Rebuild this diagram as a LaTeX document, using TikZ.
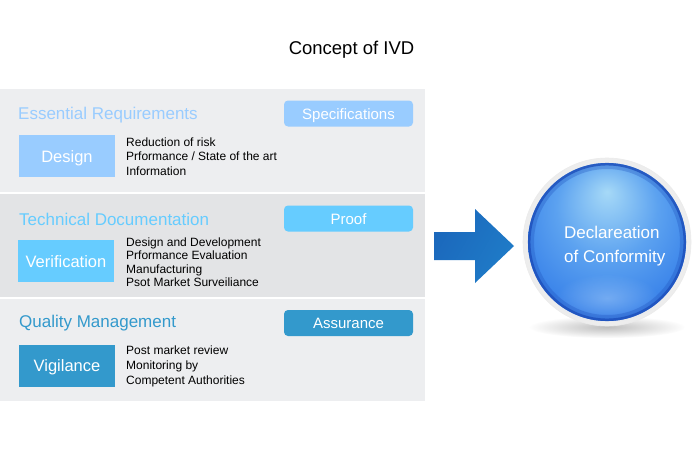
\documentclass[tikz,border=0pt]{standalone}
\usepackage{fontspec}
\setmainfont{Liberation Sans}
\usetikzlibrary{fadings}
\definecolor{paneA}{HTML}{EDEEF0}
\definecolor{paneB}{HTML}{E3E4E6}
\definecolor{specblue}{HTML}{99CCFF}
\definecolor{proofblue}{HTML}{66CCFF}
\definecolor{assurblue}{HTML}{3399CC}
\definecolor{arrowA}{HTML}{1B68BC}
\definecolor{arrowB}{HTML}{3AB0E6}
\definecolor{arrowC}{HTML}{1F7CC8}
\definecolor{orbA}{HTML}{A6D9F7}
\definecolor{orbB}{HTML}{5CA2F0}
\definecolor{orbC}{HTML}{3D86EA}
\definecolor{orbD}{HTML}{2E6ADA}
\definecolor{orbE}{HTML}{1D4FBB}
\definecolor{orbbottom}{HTML}{93C0F7}
\definecolor{ringgray}{HTML}{EDEDED}
\newcommand{\fs}[1]{\fontsize{#1}{#1}\selectfont}
\pgfdeclareradialshading{orb}{\pgfpoint{0bp}{16bp}}{color(0bp)=(orbA); color(16bp)=(orbB); color(28bp)=(orbC); color(36bp)=(orbD); color(42bp)=(orbE); color(50bp)=(orbE)}
\tikzfading[name=glow, inner color=transparent!0, outer color=transparent!100]
\tikzset{
	head/.style={anchor=base west,inner sep=0pt,font=\fs{17},text=#1},
	tag/.style={fill=#1,rounded corners=4pt,minimum width=129pt,minimum height=26pt,inner sep=0pt,text=white,font=\fs{15},text height=11pt,text depth=0pt},
	stage/.style={fill=#1,minimum width=96pt,minimum height=42pt,inner sep=0pt,text=white,font=\fs{16.5},text height=12pt,text depth=0pt},
	items/.style={anchor=north west,inner sep=0pt,align=left,font=\fontsize{12}{#1}\selectfont}
}
\begin{document}
\begin{tikzpicture}[x=1pt,y=-1pt]
	\useasboundingbox (0,0) rectangle (700,460);
	\fill[white] (0,0) rectangle (700,460);
	\node[inner sep=0pt,font=\fs{18.5}] (title) at (351.5,50) {Concept of IVD};
	% three panels
	\fill[paneA] (0,89) rectangle (425,192);
	\fill[paneB] (0,194) rectangle (425,297);
	\fill[paneA] (0,299) rectangle (425,401);
	\node[head=specblue] (req) at (18,119.5) {Essential Requirements};
	\node[tag=specblue] (spec) at (348.5,113.5) {Specifications};
	\node[stage=specblue] (design) at (67,156) {Design};
	\node[items=14.6] (designlist) at (126,137.3) {Reduction of risk\\Prformance / State of the art\\Information};
	\node[head=proofblue] (techdoc) at (19,225.5) {Technical Documentation};
	\node[tag=proofblue] (proof) at (348.5,218.5) {Proof};
	\node[stage=proofblue] (verif) at (66,261) {Verification};
	\node[items=13.4] (veriflist) at (126,237.4) {Design and Development\\Prformance Evaluation\\Manufacturing\\Psot Market Surveiliance};
	\node[head=assurblue] (qm) at (19,327.8) {Quality Management};
	\node[tag=assurblue] (assur) at (348.5,323) {Assurance};
	\node[stage=assurblue] (vigil) at (67,365.5) {Vigilance};
	\node[items=15] (vigillist) at (126,345.7) {Post market review\\Monitoring by\\Competent Authorities};
	% arrow
	\shade[left color=arrowA,middle color=arrowB,right color=arrowC,shading angle=60] (434,232) -- (475,232) -- (475,209) -- (514,246) -- (475,283) -- (475,260) -- (434,260) -- cycle;
	% orb
	\fill[black!25,path fading=glow] (607,327) ellipse (78 and 11);
	\fill[ringgray,draw=black!8,line width=0.6pt] (607,242) circle (84);
	\shade[shading=orb] (607,242) circle (79);
	\fill[orbbottom,path fading=glow,fill opacity=0.6] (607,298) ellipse (52 and 24);
	\draw[orbE,line width=6pt,opacity=0.3] (607,242) circle (76);
	\draw[orbE,line width=2.5pt,opacity=0.8] (607,242) circle (77.8);
	\node[anchor=west,inner sep=0pt,align=left,text=white,font=\fontsize{17}{23.5}\selectfont] (conformity) at (564,246) {Declareation\\of Conformity};
\end{tikzpicture}
\end{document}
